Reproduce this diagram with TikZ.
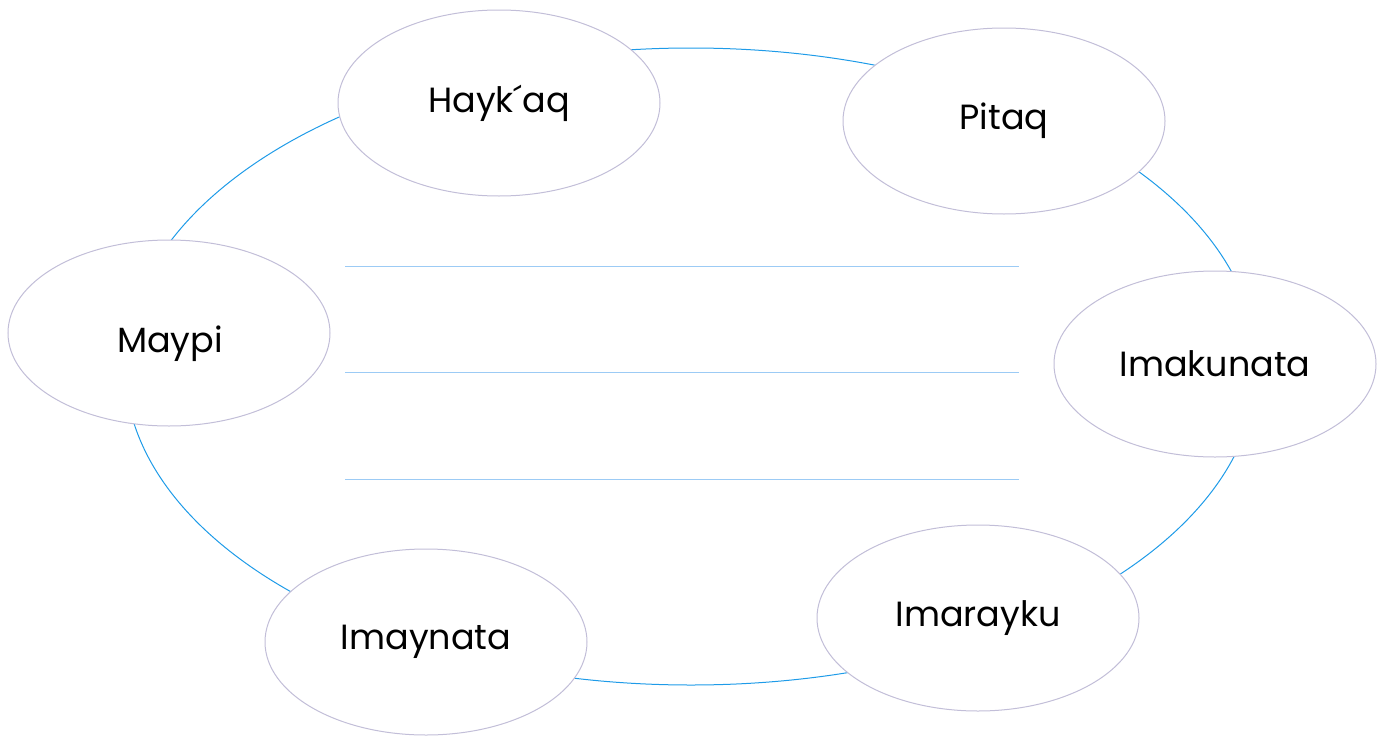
\documentclass[tikz,border=0pt]{standalone}
\usepackage{fontspec}
\setmainfont{Poppins}
\usetikzlibrary{shapes.geometric}
\definecolor{ringblue}{HTML}{1E9BE8}
\definecolor{rimgrey}{HTML}{C2BED8}
\definecolor{ruleblue}{HTML}{9CCBF5}
\tikzset{
  bubble/.style={ellipse, draw=rimgrey, line width=1pt, fill=white,
    minimum width=322pt, minimum height=186pt, inner sep=0pt,
    font=\fontsize{35}{40}\selectfont, text=black},
  rule/.style={draw=ruleblue, line width=1pt}
}
\begin{document}
\begin{tikzpicture}[x=1pt,y=-1pt]
\useasboundingbox (0,0) rectangle (1384,736);
\draw[ringblue, line width=1pt] (691,366.5) ellipse [x radius=566, y radius=318.5];
\coordinate (l1a) at (345,266); \coordinate (l1b) at (1019,266);
\coordinate (l2a) at (345,372); \coordinate (l2b) at (1019,372);
\coordinate (l3a) at (345,479); \coordinate (l3b) at (1019,479);
\draw[rule] (l1a) -- (l1b);
\draw[rule] (l2a) -- (l2b);
\draw[rule] (l3a) -- (l3b);
\node[bubble] (hay) at (499,103) {Hayk´aq};
\node[bubble] (pit) at (1004,121) {Pitaq};
\node[bubble] (ima) at (1215,364) {Imakunata};
\node[bubble] (imr) at (978,618) {Imarayku};
\node[bubble] (imy) at (426,642) {Imaynata};
\node[bubble] (may) at (169,333) {};
\node[font=\fontsize{35}{40}\selectfont] (maytxt) at (170,344) {Maypi};
\end{tikzpicture}
\end{document}
